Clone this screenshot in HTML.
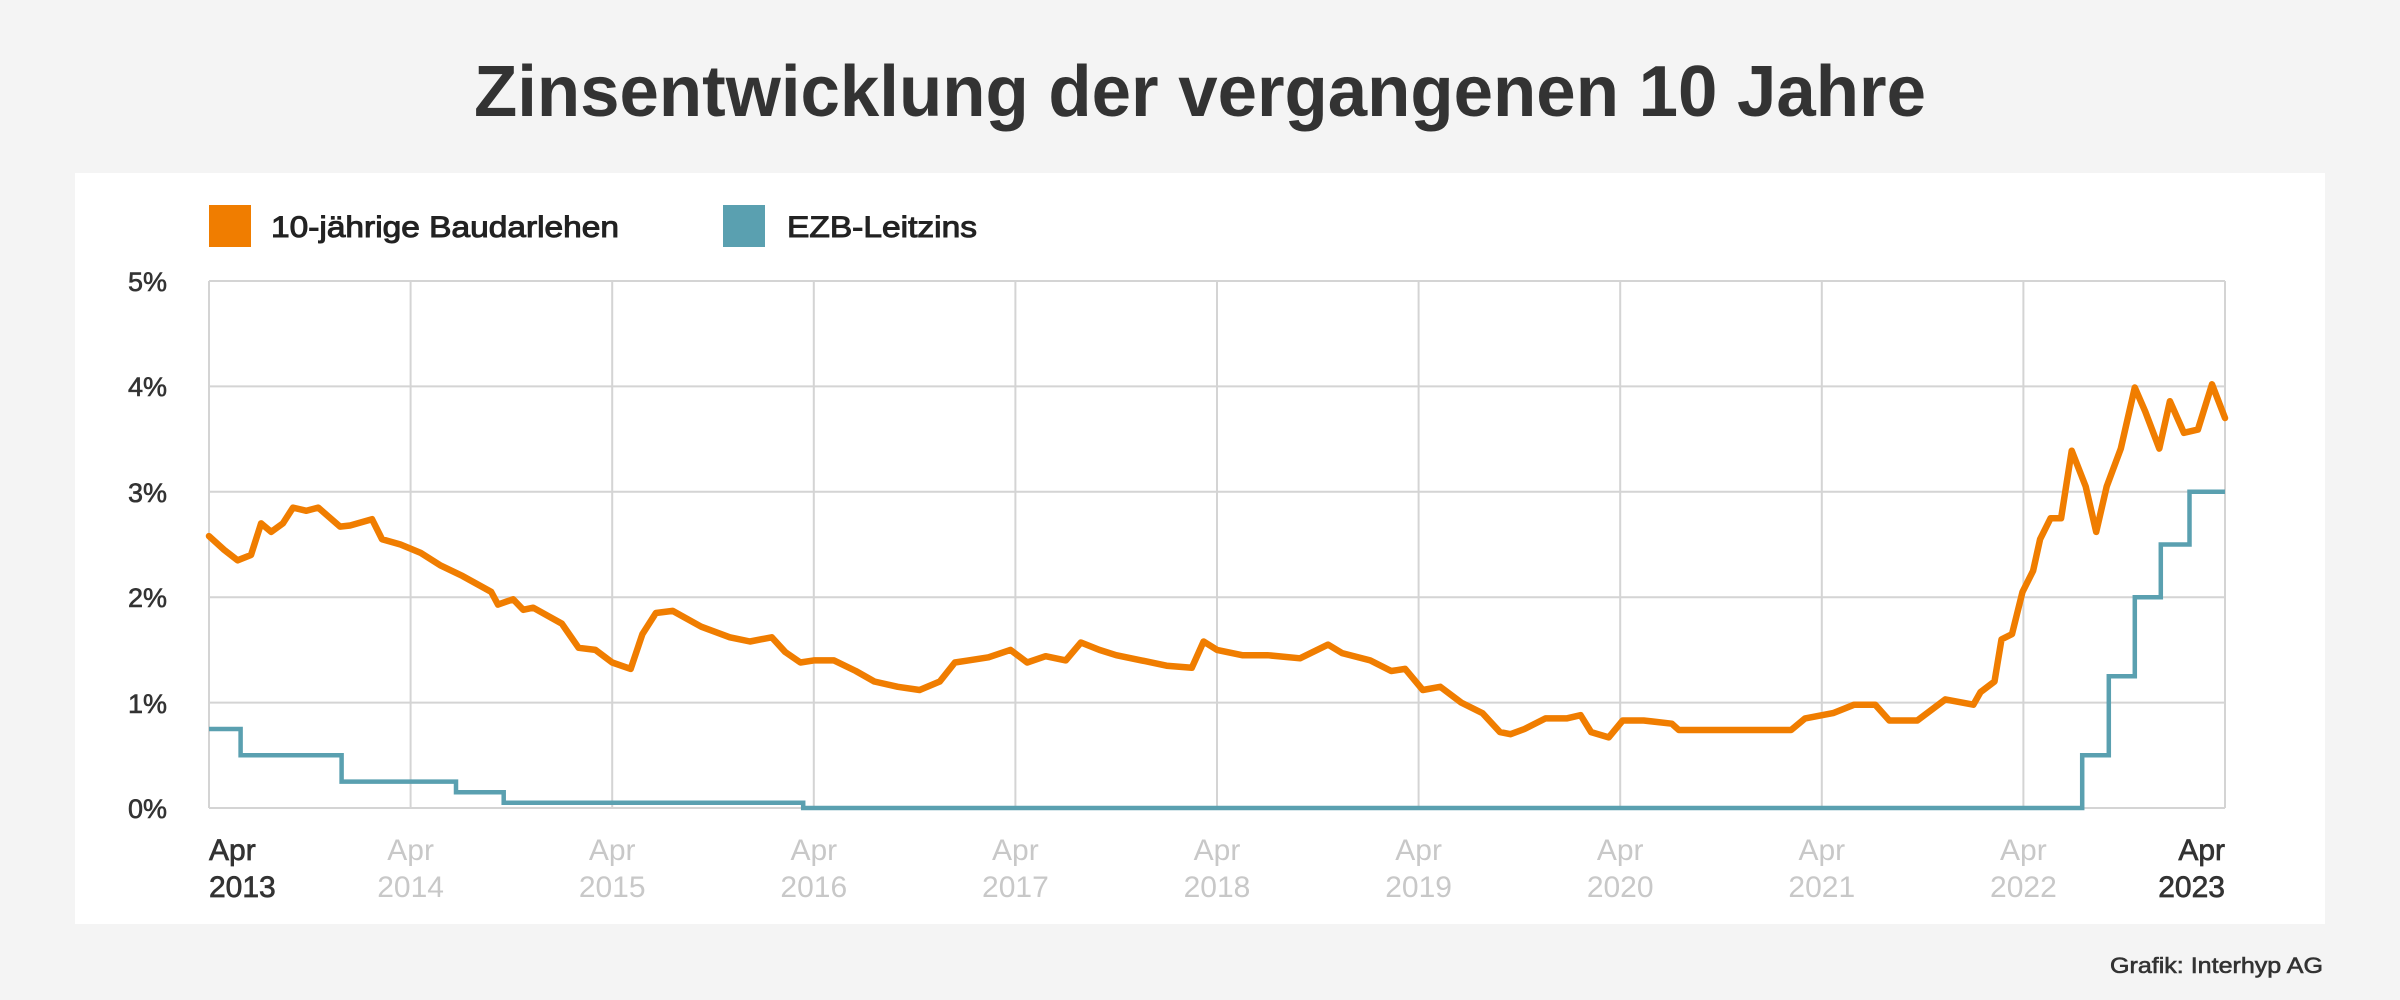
<!DOCTYPE html>
<html><head><meta charset="utf-8"><style>
html,body{margin:0;padding:0;background:#f4f4f4;}
svg{display:block;}
text{font-family:"Liberation Sans",sans-serif;}
</style></head><body>
<svg width="2400" height="1000" viewBox="0 0 2400 1000" xmlns="http://www.w3.org/2000/svg">
<rect x="0" y="0" width="2400" height="1000" fill="#f4f4f4"/>
<text x="1200" y="116" text-anchor="middle" font-size="72" font-weight="bold" fill="#333" textLength="1452" lengthAdjust="spacingAndGlyphs">Zinsentwicklung der vergangenen 10 Jahre</text>
<rect x="75" y="173" width="2250" height="751" fill="#fff"/>
<rect x="209" y="205" width="42" height="42" fill="#f07d00"/>
<text x="271" y="237" font-size="30" fill="#222" stroke="#222" stroke-width="1" textLength="348" lengthAdjust="spacingAndGlyphs">10-jährige Baudarlehen</text>
<rect x="723" y="205" width="42" height="42" fill="#5aa0b0"/>
<text x="787" y="237" font-size="30" fill="#222" stroke="#222" stroke-width="1" textLength="190" lengthAdjust="spacingAndGlyphs">EZB-Leitzins</text>
<g stroke="#d4d4d4" stroke-width="2" fill="none">
<line x1="209" y1="281" x2="2225" y2="281"/>
<line x1="209" y1="386.4" x2="2225" y2="386.4"/>
<line x1="209" y1="491.8" x2="2225" y2="491.8"/>
<line x1="209" y1="597.2" x2="2225" y2="597.2"/>
<line x1="209" y1="702.6" x2="2225" y2="702.6"/>
<line x1="209" y1="808" x2="2225" y2="808"/>
<line x1="209" y1="281" x2="209" y2="808"/>
<line x1="410.6" y1="281" x2="410.6" y2="808"/>
<line x1="612.2" y1="281" x2="612.2" y2="808"/>
<line x1="813.8" y1="281" x2="813.8" y2="808"/>
<line x1="1015.4" y1="281" x2="1015.4" y2="808"/>
<line x1="1217" y1="281" x2="1217" y2="808"/>
<line x1="1418.6" y1="281" x2="1418.6" y2="808"/>
<line x1="1620.2" y1="281" x2="1620.2" y2="808"/>
<line x1="1821.8" y1="281" x2="1821.8" y2="808"/>
<line x1="2023.4" y1="281" x2="2023.4" y2="808"/>
<line x1="2225" y1="281" x2="2225" y2="808"/>
</g>
<g font-size="27" fill="#333" text-anchor="end" stroke="#333" stroke-width="0.6">
<text x="167" y="291">5%</text>
<text x="167" y="396">4%</text>
<text x="167" y="502">3%</text>
<text x="167" y="607">2%</text>
<text x="167" y="713">1%</text>
<text x="167" y="818">0%</text>
</g>
<g font-size="30" fill="#c8c8c8" text-anchor="middle">
<text x="410.6" y="860">Apr</text><text x="410.6" y="897">2014</text>
<text x="612.2" y="860">Apr</text><text x="612.2" y="897">2015</text>
<text x="813.8" y="860">Apr</text><text x="813.8" y="897">2016</text>
<text x="1015.4" y="860">Apr</text><text x="1015.4" y="897">2017</text>
<text x="1217" y="860">Apr</text><text x="1217" y="897">2018</text>
<text x="1418.6" y="860">Apr</text><text x="1418.6" y="897">2019</text>
<text x="1620.2" y="860">Apr</text><text x="1620.2" y="897">2020</text>
<text x="1821.8" y="860">Apr</text><text x="1821.8" y="897">2021</text>
<text x="2023.4" y="860">Apr</text><text x="2023.4" y="897">2022</text>
</g>
<g font-size="30" fill="#333" stroke="#333" stroke-width="0.7">
<text x="209" y="860">Apr</text><text x="209" y="897">2013</text>
<text x="2225" y="860" text-anchor="end">Apr</text><text x="2225" y="897" text-anchor="end">2023</text>
</g>
<polyline fill="none" stroke="#5aa0b0" stroke-width="4.5" stroke-linejoin="miter" points="209,729 240.6,729 240.6,755.3 341.6,755.3 341.6,781.6 456,781.6 456,792.2 503.7,792.2 503.7,802.7 803.2,802.7 803.2,808 2082.2,808 2082.2,755.3 2108.8,755.3 2108.8,676.3 2134.8,676.3 2134.8,597.2 2160.8,597.2 2160.8,544.5 2189.5,544.5 2189.5,491.8 2225,491.8"/>
<polyline fill="none" stroke="#f07d00" stroke-width="6.5" stroke-linejoin="round" stroke-linecap="round" points="209,536.1 224.1,549.8 237.6,560.3 251,555 261.1,523.4 271.2,531.9 282.9,523.4 293,507.6 306.4,510.8 318.2,507.6 340,526.6 350.1,525.5 372,519.2 382,539.2 400.5,544.5 420.7,552.9 440.8,565.6 462.7,576.1 491.2,591.9 498,604.6 513.1,599.3 523.2,609.8 533.2,607.7 561.8,623.6 578.6,647.8 595.4,649.9 612.2,662.5 630.7,668.9 642.4,634.1 655.9,613 672.7,610.9 701.2,626.7 729.8,637.3 750,641.5 771.8,637.3 785.2,652 800.4,662.5 813.8,660.4 834,660.4 855.8,671 874.3,681.5 897.8,686.8 919.6,690 939.8,681.5 954.9,662.5 968.4,660.4 988.5,657.3 1010.4,649.9 1027.2,662.5 1045.6,656.2 1065.8,660.4 1080.9,642.5 1099.4,649.9 1116.2,655.2 1141.4,660.4 1166.6,665.7 1191.8,667.8 1203.6,641.5 1217,649.9 1242.2,655.2 1267.4,655.2 1300,658.3 1328.1,644.6 1342.1,653.1 1370.2,660.4 1391.2,671 1405.2,668.9 1422.8,690 1440.3,686.8 1461.3,702.6 1482.4,713.1 1499.9,732.1 1510.5,734.2 1524.5,729 1545.5,718.4 1566.6,718.4 1580.6,715.2 1591.1,732.1 1608.7,737.4 1622.7,720.5 1643.7,720.5 1671.8,723.7 1678.8,730 1791.1,730 1805.1,718.4 1833.1,713.1 1854.2,704.7 1875.2,704.7 1889.3,720.5 1917.3,720.5 1945.4,699.4 1973.4,704.7 1980.5,692.1 1994.5,681.5 2001.5,639.4 2012,634.1 2022.5,591.9 2033.1,570.8 2040.1,539.2 2050.6,518.2 2061.1,518.2 2071.7,450.7 2085.7,486.5 2096.2,531.9 2106.7,486.5 2120.8,448.6 2134.8,387.5 2145.3,411.7 2159.3,448.6 2169.9,401.2 2183.9,432.8 2197.9,429.6 2212,384.3 2225,418"/>
<text x="2323" y="973" text-anchor="end" font-size="22" fill="#333" stroke="#333" stroke-width="0.6" textLength="213" lengthAdjust="spacingAndGlyphs">Grafik: Interhyp AG</text>
</svg>
</body></html>
